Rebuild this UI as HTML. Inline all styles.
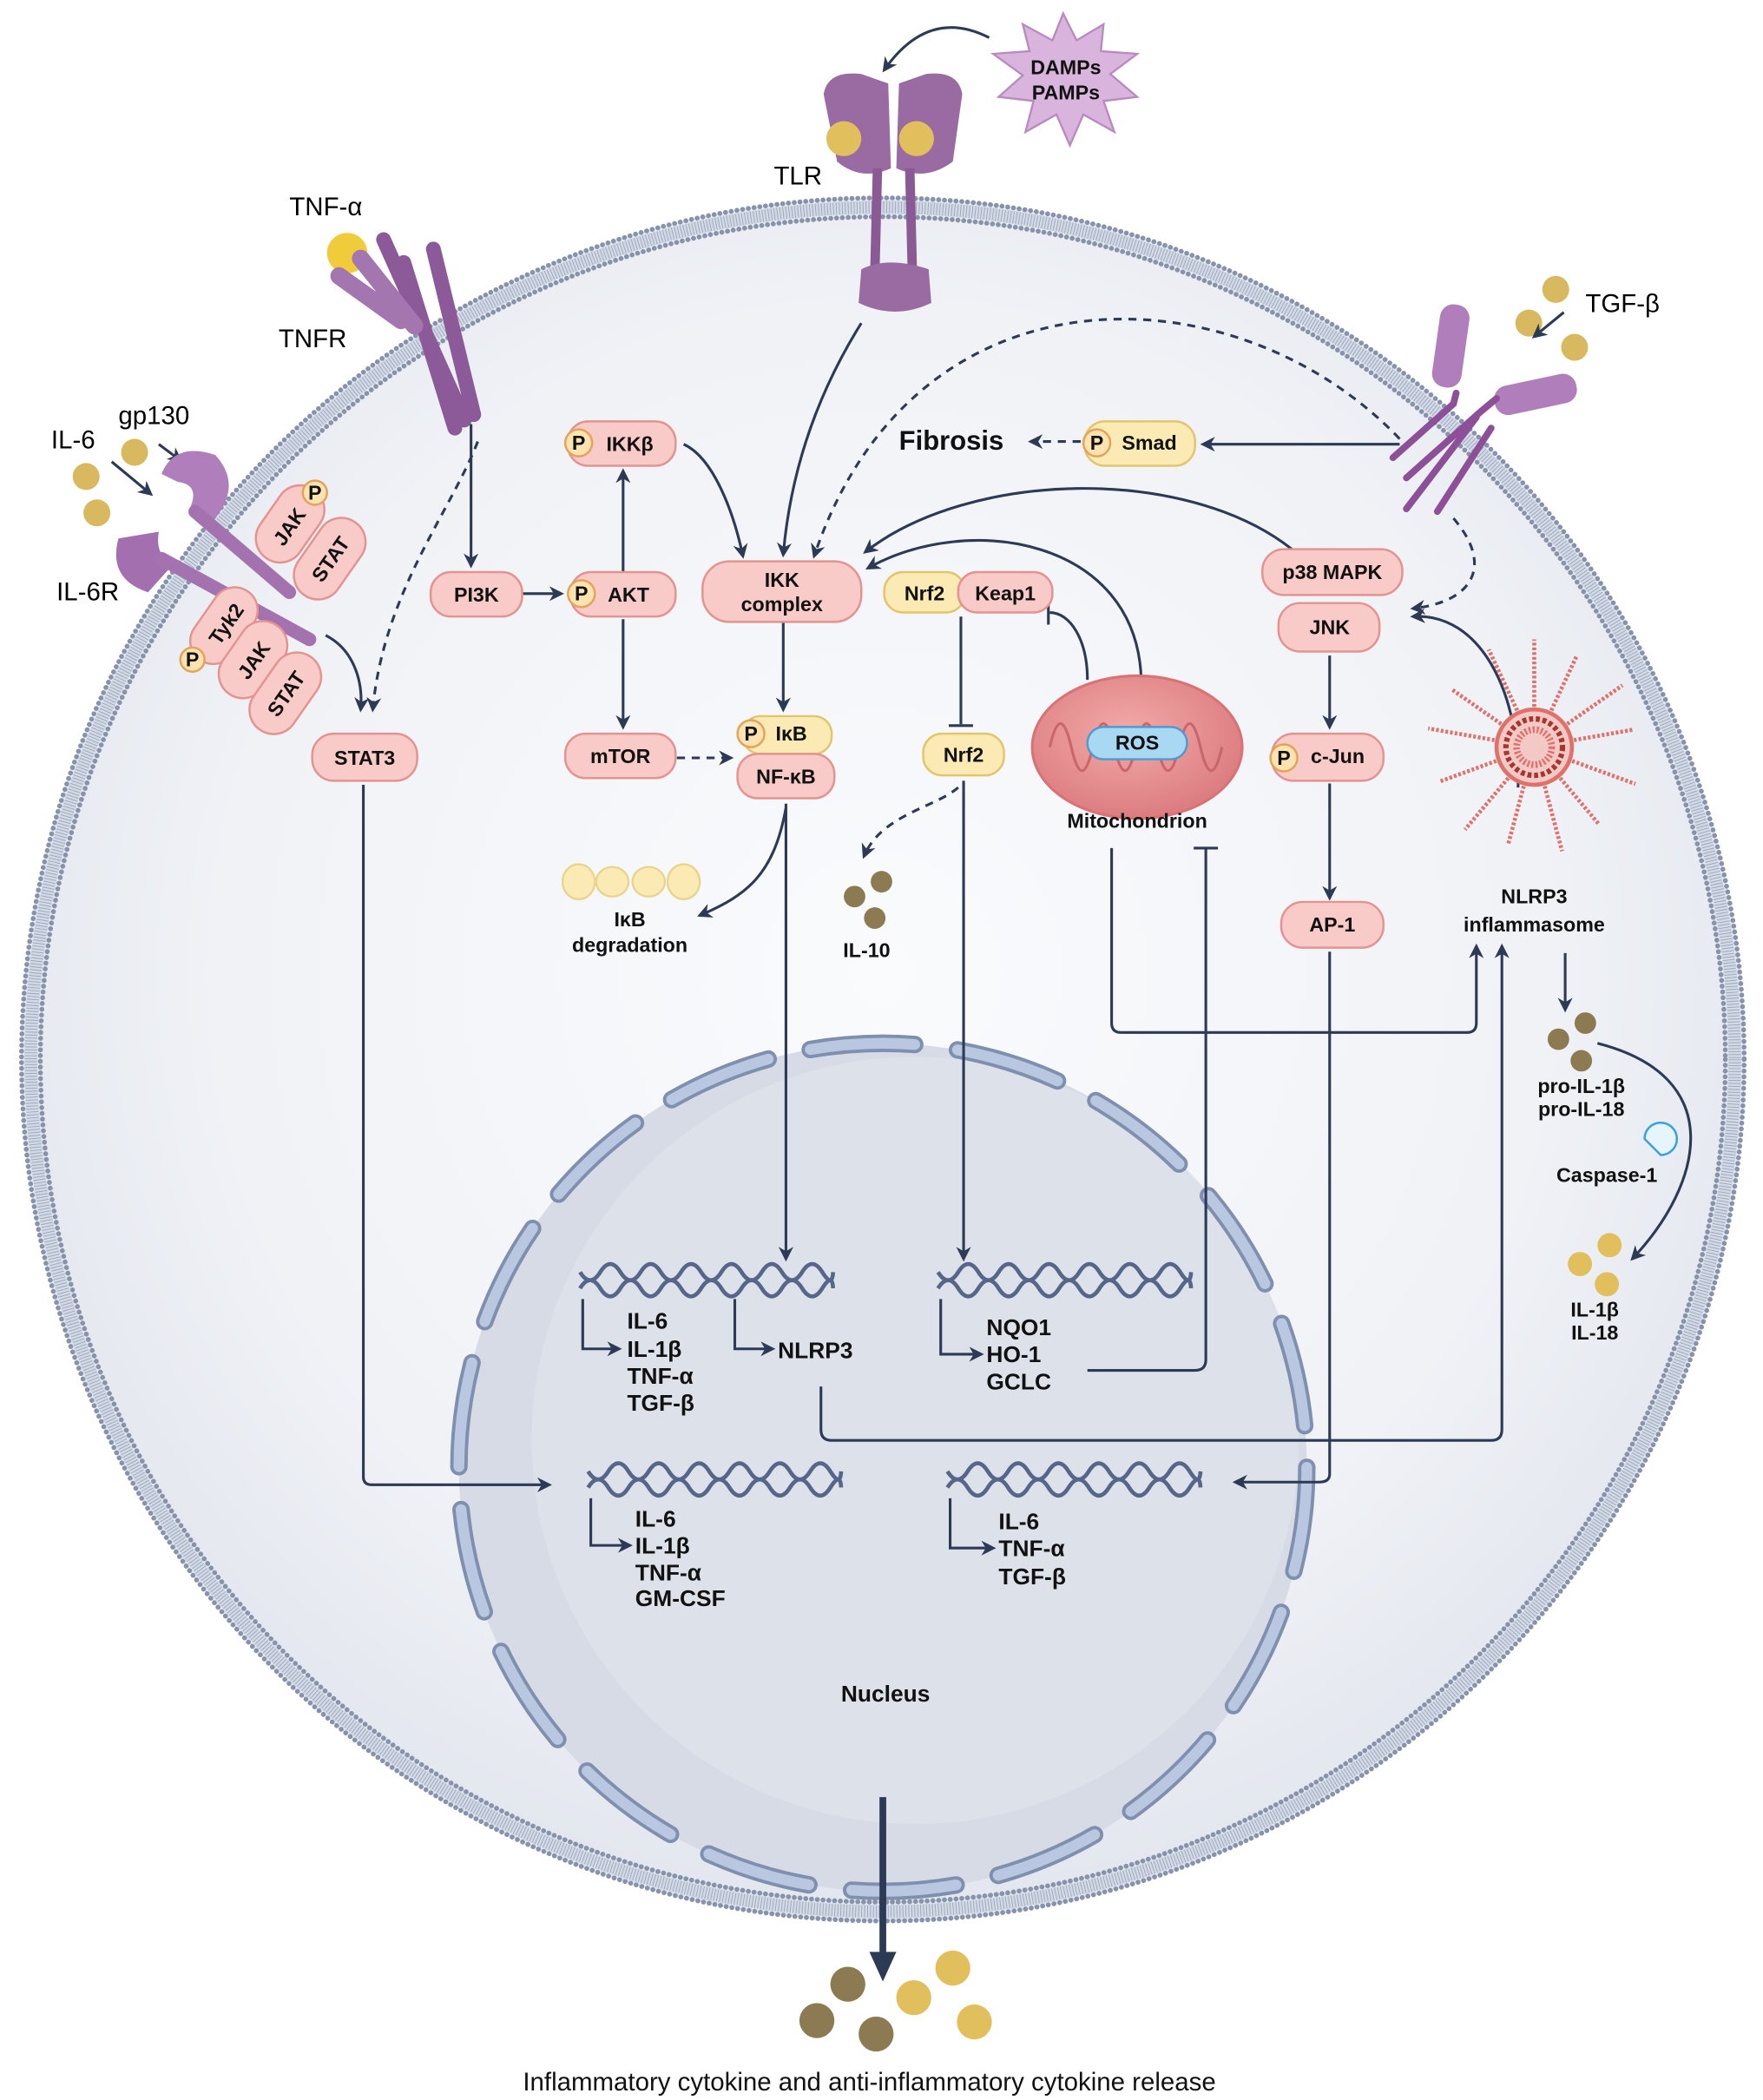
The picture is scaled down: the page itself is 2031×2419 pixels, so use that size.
<!DOCTYPE html>
<html><head><meta charset="utf-8"><style>
html,body{margin:0;padding:0;background:#fff}
svg{display:block}
text{font-family:"Liberation Sans",Arial,sans-serif}
.b{font-weight:bold;font-size:15px;fill:#111}
.g{font-weight:bold;font-size:17px;fill:#111}
.box{fill:#f9cbc8;stroke:#e39390;stroke-width:1.6}
.yb{fill:#fbeab4;stroke:#e2c66e;stroke-width:1.6}
.pc{fill:#fde3b0;stroke:#e3a35a;stroke-width:1.6}
.ar{fill:none;stroke:#2c3a55;stroke-width:2}
.da{fill:none;stroke:#2c3a55;stroke-width:2;stroke-dasharray:6 5}
.dna{fill:none;stroke:#56658a;stroke-width:3}
</style></head><body>
<svg width="2031" height="2419" viewBox="0 0 1310 1560" preserveAspectRatio="none" xmlns="http://www.w3.org/2000/svg">
<defs>
<marker id="m" viewBox="0 0 10 10" refX="8" refY="5" markerWidth="5.5" markerHeight="5.5" orient="auto"><path d="M0,0 L10,5 L0,10 L3,5z" fill="#2c3a55"/></marker>
<radialGradient id="cg" cx="0.5" cy="0.45" r="0.55"><stop offset="0" stop-color="#fafbfd"/><stop offset="0.7" stop-color="#f0f2f6"/><stop offset="1" stop-color="#e2e6ee"/></radialGradient>
<radialGradient id="mg" cx="0.45" cy="0.4" r="0.6"><stop offset="0" stop-color="#f3a9a8"/><stop offset="1" stop-color="#dc7d80"/></radialGradient>
</defs>
<rect width="1310" height="1560" fill="#fff"/>
<!-- cell -->
<circle cx="656" cy="787" r="640" fill="url(#cg)"/>
<circle cx="656" cy="787" r="633" fill="none" stroke="#d3dae6" stroke-width="10"/>
<circle cx="656" cy="787" r="633" fill="none" stroke="#9aa6bb" stroke-width="9" stroke-dasharray="0.6 1.6"/>
<circle cx="656" cy="787" r="640" fill="none" stroke="#8793aa" stroke-width="3.6" stroke-dasharray="0.1 4.2" stroke-linecap="round"/>
<circle cx="656" cy="787" r="626" fill="none" stroke="#8793aa" stroke-width="3.6" stroke-dasharray="0.1 4.2" stroke-linecap="round"/>
<!-- nucleus -->
<circle cx="656" cy="1090" r="315" fill="#d6dbe6"/>
<circle cx="680" cy="1070" r="285" fill="#dde1ea"/>
<circle cx="656" cy="1090" r="315" fill="none" stroke="#7f8fae" stroke-width="13" stroke-dasharray="78 32" stroke-linecap="round"/>
<circle cx="656" cy="1090" r="315" fill="none" stroke="#b9c7e1" stroke-width="8" stroke-dasharray="78 32" stroke-linecap="round"/>

<!-- TLR -->
<path d="M612,70 Q615,52 640,55 L660,62 L662,125 Q640,135 622,120 Z" fill="#9a6aa2"/>
<path d="M715,70 Q712,52 688,55 L668,62 L666,125 Q688,135 708,120 Z" fill="#9a6aa2"/>
<circle cx="627" cy="103" r="13" fill="#e0bf5c"/><circle cx="681" cy="103" r="13" fill="#e0bf5c"/>
<path d="M652,125 L650,205 M676,125 L678,205" stroke="#8b5a94" stroke-width="7"/>
<path d="M640,200 Q660,190 690,200 L692,225 Q665,238 638,225Z" fill="#9a6aa2"/>
<text x="575" y="137" font-size="19">TLR</text>
<!-- DAMPs star -->
<polygon points="790,10 800,30 820,18 818,38 845,40 825,55 845,72 820,75 828,98 805,85 795,108 785,85 762,98 768,75 742,72 760,56 738,40 765,38 760,18 782,30" fill="#d9b4dd" stroke="#b88abf" stroke-width="1.5"/>
<text x="792" y="55" text-anchor="middle" class="b">DAMPs</text>
<text x="792" y="74" text-anchor="middle" class="b">PAMPs</text>
<path class="ar" d="M735,28 Q690,5 657,52" marker-end="url(#m)"/>

<!-- TNFR -->
<text x="215" y="160" font-size="19">TNF-α</text>
<text x="207" y="258" font-size="19">TNFR</text>
<circle cx="258" cy="188" r="15" fill="#f0cc3a"/>
<path d="M285,178 L345,312 M300,195 L338,318 M322,185 L352,308" stroke="#8c5a98" stroke-width="11" stroke-linecap="round"/>
<path d="M252,205 L298,238 M268,192 L308,242" stroke="#a476b0" stroke-width="13" stroke-linecap="round"/>

<!-- IL-6R -->
<text x="38" y="333" font-size="19">IL-6</text>
<text x="88" y="315" font-size="19">gp130</text>
<text x="42" y="446" font-size="19">IL-6R</text>
<circle cx="64" cy="354" r="10" fill="#d8b95f"/><circle cx="100" cy="336" r="10" fill="#d8b95f"/><circle cx="72" cy="381" r="10" fill="#d8b95f"/>
<path class="ar" d="M83,343 L112,367" marker-end="url(#m)"/>
<path class="ar" d="M118,330 L134,342" marker-end="url(#m)"/>
<path d="M120,352 Q130,328 160,338 Q180,360 160,385 L140,380 Q150,360 132,358Z" fill="#b07fbb"/>
<path d="M88,400 Q80,430 110,440 L128,420 Q115,412 118,395Z" fill="#a36fae"/>
<path d="M145,380 L215,440 M120,415 L230,475" stroke="#a572b0" stroke-width="10" stroke-linecap="round"/>
<g transform="rotate(-55 215 390)"><rect x="185" y="372" width="62" height="36" rx="18" class="box"/><text x="214" y="396" text-anchor="middle" class="b">JAK</text></g>
<circle cx="234" cy="366" r="9" class="pc"/><text x="234" y="371" text-anchor="middle" class="b" font-size="12">P</text>
<g transform="rotate(-55 245 415)"><rect x="212" y="397" width="66" height="36" rx="18" class="box"/><text x="245" y="421" text-anchor="middle" class="b">STAT</text></g>
<g transform="rotate(-55 165 465)"><rect x="135" y="449" width="62" height="34" rx="17" class="box"/><text x="168" y="472" text-anchor="middle" class="b">Tyk2</text></g>
<circle cx="143" cy="490" r="9" class="pc"/><text x="143" y="495" text-anchor="middle" class="b" font-size="12">P</text>
<g transform="rotate(-55 188 490)"><rect x="157" y="472" width="62" height="36" rx="18" class="box"/><text x="188" y="496" text-anchor="middle" class="b">JAK</text></g>
<g transform="rotate(-55 212 515)"><rect x="179" y="497" width="66" height="36" rx="18" class="box"/><text x="212" y="521" text-anchor="middle" class="b">STAT</text></g>

<!-- TGF receptor -->
<text x="1178" y="232" font-size="19">TGF-β</text>
<circle cx="1156" cy="215" r="10" fill="#d8b95f"/><circle cx="1136" cy="240" r="10" fill="#d8b95f"/><circle cx="1170" cy="258" r="10" fill="#d8b95f"/>
<path class="ar" d="M1162,232 L1140,250" marker-end="url(#m)"/>
<rect x="1067" y="226" width="22" height="62" rx="10" fill="#b07fbb" transform="rotate(8 1078 257)"/>
<rect x="1110" y="282" width="62" height="22" rx="10" fill="#b07fbb" transform="rotate(-12 1141 293)"/>
<path d="M1082,292 L1080,300 L1035,340 M1112,296 L1100,306 L1045,355" stroke="#8c4f98" stroke-width="5" fill="none" stroke-linecap="round"/>
<path d="M1097,310 L1045,378 M1108,318 L1068,380" stroke="#8c4f98" stroke-width="5" fill="none" stroke-linecap="round"/>

<!-- arrows -->
<path class="ar" d="M640,240 Q590,320 582,412" marker-end="url(#m)"/>
<path class="da" d="M1040,326 C920,200 680,190 605,413" marker-end="url(#m)"/>
<path class="da" d="M1080,385 C1110,420 1095,447 1050,452" marker-end="url(#m)"/>
<path class="ar" d="M1040,330 L894,330" marker-end="url(#m)"/>
<path class="da" d="M803,328 L766,328" marker-end="url(#m)"/>
<path class="ar" d="M960,408 C880,345 720,350 643,410" marker-end="url(#m)"/>
<path class="ar" d="M848,505 C845,400 720,380 645,422" marker-end="url(#m)"/>
<path class="ar" d="M808,505 C808,475 795,455 780,455"/><path class="ar" d="M779,446 L779,464"/>
<path class="ar" d="M714,458 L714,538"/><path class="ar" d="M705,539 L723,539"/>
<path class="da" d="M712,585 C695,600 655,605 642,636" marker-end="url(#m)"/>
<path class="ar" d="M716,580 L716,935" marker-end="url(#m)"/>
<path class="ar" d="M584,597 L584,935" marker-end="url(#m)"/>
<path class="ar" d="M584,600 C575,650 555,665 520,680" marker-end="url(#m)"/>
<path class="ar" d="M582,462 L582,527" marker-end="url(#m)"/>
<path class="ar" d="M508,330 C530,340 545,380 552,413" marker-end="url(#m)"/>
<path class="ar" d="M463,425 L463,350" marker-end="url(#m)"/>
<path class="ar" d="M463,460 L463,540" marker-end="url(#m)"/>
<path class="da" d="M503,563 L543,563" marker-end="url(#m)"/>
<path class="ar" d="M388,441 L417,441" marker-end="url(#m)"/>
<path class="ar" d="M350,315 L350,420" marker-end="url(#m)"/>
<path class="da" d="M355,328 C335,380 285,440 277,527" marker-end="url(#m)"/>
<path class="ar" d="M242,472 C262,482 270,505 268,527" marker-end="url(#m)"/>
<path class="ar" d="M270,583 L270,1097 Q270,1103 276,1103 L408,1103" marker-end="url(#m)"/>
<path class="ar" d="M988,487 L988,540" marker-end="url(#m)"/>
<path class="ar" d="M988,582 L988,667" marker-end="url(#m)"/>
<path class="ar" d="M988,707 L988,1095 Q988,1101 980,1101 L918,1101" marker-end="url(#m)"/>
<path class="ar" d="M826,630 L826,760 Q826,767 833,767 L1090,767 Q1097,767 1097,760 L1097,703" marker-end="url(#m)"/>
<path class="ar" d="M808,1018 L888,1018 Q896,1018 896,1010 L896,630"/><path class="ar" d="M887,630 L905,630"/>
<path class="ar" d="M610,1030 L610,1062 Q610,1070 618,1070 L1108,1070 Q1116,1070 1116,1062 L1116,703" marker-end="url(#m)"/>
<path class="ar" d="M1128,585 C1130,515 1100,455 1050,458" marker-end="url(#m)"/>
<path class="ar" d="M1163,708 L1163,750" marker-end="url(#m)"/>
<path class="ar" d="M1187,775 C1285,800 1265,880 1213,935" marker-end="url(#m)"/>
<path d="M656,1335 L656,1455" stroke="#2c3a55" stroke-width="5"/>
<path d="M646,1450 L666,1450 L656,1472Z" fill="#2c3a55"/>

<!-- boxes -->
<rect x="320" y="425" width="68" height="33" rx="15" class="box"/><text x="354" y="447" text-anchor="middle" class="b">PI3K</text>
<rect x="424" y="425" width="78" height="33" rx="15" class="box"/><circle cx="432" cy="441" r="10" class="pc"/><text x="432" y="446" text-anchor="middle" class="b" font-size="13">P</text><text x="467" y="447" text-anchor="middle" class="b">AKT</text>
<rect x="422" y="313" width="80" height="33" rx="15" class="box"/><circle cx="430" cy="329" r="10" class="pc"/><text x="430" y="334" text-anchor="middle" class="b" font-size="13">P</text><text x="468" y="335" text-anchor="middle" class="b">IKKβ</text>
<rect x="522" y="417" width="118" height="45" rx="20" class="box"/><text x="581" y="436" text-anchor="middle" class="b">IKK</text><text x="581" y="454" text-anchor="middle" class="b">complex</text>
<rect x="420" y="545" width="82" height="33" rx="15" class="box"/><text x="461" y="567" text-anchor="middle" class="b">mTOR</text>
<rect x="552" y="532" width="66" height="28" rx="13" class="yb"/><circle cx="558" cy="545" r="10" class="pc"/><text x="558" y="550" text-anchor="middle" class="b" font-size="13">P</text><text x="588" y="550" text-anchor="middle" class="b" font-size="12">IκB</text>
<rect x="548" y="560" width="72" height="33" rx="15" class="box"/><text x="584" y="582" text-anchor="middle" class="b">NF-κB</text>
<rect x="657" y="425" width="60" height="30" rx="14" class="yb"/><text x="687" y="446" text-anchor="middle" class="b">Nrf2</text>
<rect x="712" y="425" width="70" height="30" rx="14" class="box"/><text x="747" y="446" text-anchor="middle" class="b">Keap1</text>
<rect x="686" y="545" width="60" height="31" rx="14" class="yb"/><text x="716" y="566" text-anchor="middle" class="b">Nrf2</text>
<rect x="232" y="545" width="78" height="35" rx="16" class="box"/><text x="271" y="568" text-anchor="middle" class="b">STAT3</text>
<rect x="938" y="408" width="104" height="34" rx="16" class="box"/><text x="990" y="430" text-anchor="middle" class="b">p38 MAPK</text>
<rect x="950" y="448" width="75" height="36" rx="16" class="box"/><text x="988" y="471" text-anchor="middle" class="b">JNK</text>
<rect x="945" y="545" width="83" height="35" rx="16" class="box"/><circle cx="954" cy="563" r="10" class="pc"/><text x="954" y="568" text-anchor="middle" class="b" font-size="13">P</text><text x="994" y="567" text-anchor="middle" class="b">c-Jun</text>
<rect x="952" y="670" width="76" height="34" rx="16" class="box"/><text x="990" y="692" text-anchor="middle" class="b">AP-1</text>
<rect x="806" y="313" width="82" height="33" rx="15" class="yb"/><circle cx="815" cy="329" r="10" class="pc"/><text x="815" y="334" text-anchor="middle" class="b" font-size="13">P</text><text x="854" y="334" text-anchor="middle" class="b">Smad</text>
<text x="668" y="334" font-size="20" font-weight="bold" fill="#111">Fibrosis</text>

<!-- mitochondrion -->
<ellipse cx="845" cy="555" rx="78" ry="53" fill="url(#mg)" stroke="#d87275" stroke-width="2"/>
<path d="M780,555 q8,-35 16,0 q8,35 16,0 q8,-35 16,0 q8,35 16,0 q8,-35 16,0 q8,35 16,0 q8,-35 16,0 q8,35 16,0" fill="none" stroke="#c8666a" stroke-width="2"/>
<rect x="808" y="540" width="74" height="24" rx="12" fill="#a9d8f3" stroke="#4f9ad0" stroke-width="1.6"/><text x="845" y="557" text-anchor="middle" class="b">ROS</text>
<text x="845" y="615" text-anchor="middle" class="b">Mitochondrion</text>

<!-- NLRP3 inflammasome -->
<g stroke="#e0706c" stroke-width="3" stroke-dasharray="2 1.5">
<g transform="translate(1140,555)">
<line x1="0" y1="-30" x2="0" y2="-80" transform="rotate(0)"/><line x1="0" y1="-30" x2="0" y2="-75" transform="rotate(25)"/><line x1="0" y1="-30" x2="0" y2="-80" transform="rotate(55)"/><line x1="0" y1="-30" x2="0" y2="-75" transform="rotate(80)"/><line x1="0" y1="-30" x2="0" y2="-80" transform="rotate(110)"/><line x1="0" y1="-30" x2="0" y2="-75" transform="rotate(140)"/><line x1="0" y1="-30" x2="0" y2="-80" transform="rotate(165)"/><line x1="0" y1="-30" x2="0" y2="-75" transform="rotate(195)"/><line x1="0" y1="-30" x2="0" y2="-80" transform="rotate(220)"/><line x1="0" y1="-30" x2="0" y2="-75" transform="rotate(250)"/><line x1="0" y1="-30" x2="0" y2="-80" transform="rotate(280)"/><line x1="0" y1="-30" x2="0" y2="-75" transform="rotate(305)"/><line x1="0" y1="-30" x2="0" y2="-80" transform="rotate(335)"/>
</g></g>
<circle cx="1140" cy="555" r="28" fill="#f3c9c5" stroke="#e0706c" stroke-width="3"/>
<circle cx="1140" cy="555" r="21" fill="none" stroke="#a8352f" stroke-width="4" stroke-dasharray="3 2"/>
<circle cx="1140" cy="555" r="13" fill="none" stroke="#e0706c" stroke-width="5" stroke-dasharray="1.5 1.5"/>
<text x="1140" y="671" text-anchor="middle" class="b" font-size="17">NLRP3</text>
<text x="1140" y="692" text-anchor="middle" class="b" font-size="17">inflammasome</text>

<!-- IκB degradation -->
<g fill="#fbeab4" stroke="#e8d48c" stroke-width="1.5">
<ellipse cx="430" cy="655" rx="12" ry="13"/><ellipse cx="455" cy="655" rx="12" ry="11"/><ellipse cx="482" cy="655" rx="12" ry="11"/><ellipse cx="508" cy="655" rx="12" ry="13"/>
</g>
<text x="468" y="688" text-anchor="middle" class="b">IκB</text>
<text x="468" y="707" text-anchor="middle" class="b">degradation</text>
<!-- IL-10 -->
<circle cx="635" cy="666" r="8" fill="#8b7a52"/><circle cx="655" cy="655" r="8" fill="#8b7a52"/><circle cx="650" cy="682" r="8" fill="#8b7a52"/>
<text x="644" y="711" text-anchor="middle" class="b" font-size="14">IL-10</text>
<!-- pro-IL -->
<circle cx="1158" cy="772" r="8" fill="#8b7a52"/><circle cx="1178" cy="760" r="8" fill="#8b7a52"/><circle cx="1175" cy="788" r="8" fill="#8b7a52"/>
<text x="1175" y="812" text-anchor="middle" class="b" font-size="14">pro-IL-1β</text>
<text x="1175" y="829" text-anchor="middle" class="b" font-size="14">pro-IL-18</text>
<path d="M1222,846 a12,12 0 1 1 12,12 l-6,-6 z" fill="#e6f4fc" stroke="#3aa0dd" stroke-width="1.6"/>
<text x="1194" y="878" text-anchor="middle" class="b" font-size="17">Caspase-1</text>
<circle cx="1196" cy="925" r="9" fill="#e0bf5c"/><circle cx="1174" cy="939" r="9" fill="#e0bf5c"/><circle cx="1194" cy="954" r="9" fill="#e0bf5c"/>
<text x="1185" y="978" text-anchor="middle" class="b" font-size="14">IL-1β</text>
<text x="1185" y="995" text-anchor="middle" class="b" font-size="14">IL-18</text>

<!-- DNA -->
<g class="dna">
<path d="M431,945 q7.5,12 15,0 t15,0 t15,0 t15,0 t15,0 t15,0 t15,0 t15,0 t15,0 t15,0 t15,0 t15,0 t8,0"/>
<path d="M431,957 q7.5,-12 15,0 t15,0 t15,0 t15,0 t15,0 t15,0 t15,0 t15,0 t15,0 t15,0 t15,0 t15,0 t8,0"/>
<path d="M697,945 q7.5,12 15,0 t15,0 t15,0 t15,0 t15,0 t15,0 t15,0 t15,0 t15,0 t15,0 t15,0 t15,0 t8,0"/>
<path d="M697,957 q7.5,-12 15,0 t15,0 t15,0 t15,0 t15,0 t15,0 t15,0 t15,0 t15,0 t15,0 t15,0 t15,0 t8,0"/>
<path d="M437,1093 q7.5,12 15,0 t15,0 t15,0 t15,0 t15,0 t15,0 t15,0 t15,0 t15,0 t15,0 t15,0 t15,0 t8,0"/>
<path d="M437,1105 q7.5,-12 15,0 t15,0 t15,0 t15,0 t15,0 t15,0 t15,0 t15,0 t15,0 t15,0 t15,0 t15,0 t8,0"/>
<path d="M704,1093 q7.5,12 15,0 t15,0 t15,0 t15,0 t15,0 t15,0 t15,0 t15,0 t15,0 t15,0 t15,0 t15,0 t8,0"/>
<path d="M704,1105 q7.5,-12 15,0 t15,0 t15,0 t15,0 t15,0 t15,0 t15,0 t15,0 t15,0 t15,0 t15,0 t15,0 t8,0"/>
</g>
<!-- gene brackets -->
<path class="ar" d="M433,965 L433,1002 L460,1002" marker-end="url(#m)"/>
<path class="ar" d="M546,965 L546,1002 L574,1002" marker-end="url(#m)"/>
<path class="ar" d="M699,965 L699,1006 L729,1006" marker-end="url(#m)"/>
<path class="ar" d="M439,1113 L439,1148 L468,1148" marker-end="url(#m)"/>
<path class="ar" d="M706,1113 L706,1150 L738,1150" marker-end="url(#m)"/>
<g class="g">
<text x="466" y="987">IL-6</text><text x="466" y="1008">IL-1β</text><text x="466" y="1028">TNF-α</text><text x="466" y="1048">TGF-β</text>
<text x="578" y="1009">NLRP3</text>
<text x="733" y="992">NQO1</text><text x="733" y="1012">HO-1</text><text x="733" y="1032">GCLC</text>
<text x="472" y="1134">IL-6</text><text x="472" y="1154">IL-1β</text><text x="472" y="1174">TNF-α</text><text x="472" y="1193">GM-CSF</text>
<text x="742" y="1136">IL-6</text><text x="742" y="1156">TNF-α</text><text x="742" y="1177">TGF-β</text>
<text x="658" y="1264" text-anchor="middle">Nucleus</text>
</g>
<!-- released cytokines -->
<circle cx="630" cy="1474" r="13" fill="#8b7a52"/><circle cx="607" cy="1501" r="13" fill="#8b7a52"/><circle cx="651" cy="1511" r="13" fill="#8b7a52"/>
<circle cx="708" cy="1462" r="13" fill="#e0bf5c"/><circle cx="679" cy="1484" r="13" fill="#e0bf5c"/><circle cx="724" cy="1502" r="13" fill="#e0bf5c"/>
<text x="646" y="1553" text-anchor="middle" font-size="19" fill="#111">Inflammatory cytokine and anti-inflammatory cytokine release</text>
</svg>
</body></html>
